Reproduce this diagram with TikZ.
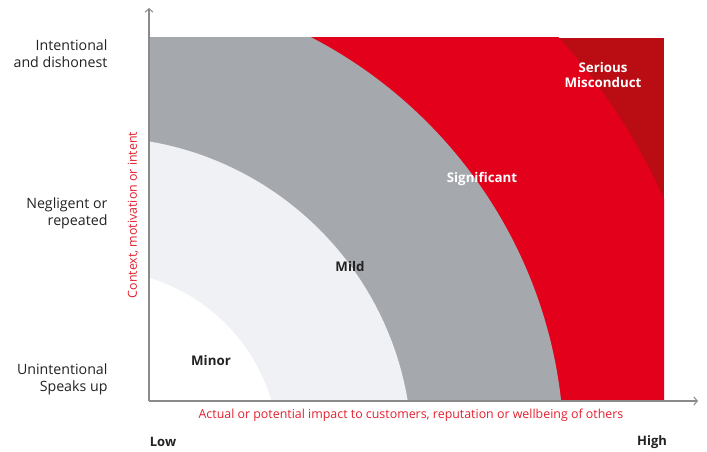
\documentclass[tikz,border=0pt]{standalone}
\usepackage{fontspec}
\setmainfont{Open Sans}
\usetikzlibrary{arrows.meta}
\definecolor{hred}{HTML}{E2001A}
\definecolor{hdark}{HTML}{BA0D13}
\definecolor{hgray}{HTML}{A5A9AE}
\definecolor{hlight}{HTML}{EFF1F4}
\definecolor{haxis}{HTML}{8A8A8A}
\definecolor{htext}{HTML}{222222}
\definecolor{hlab}{HTML}{E4202F}
\tikzset{
  axisline/.style={draw=haxis, line width=1.2pt, -{Straight Barb[length=3.5pt,width=8pt,line width=1pt]}},
  levellab/.style={text=htext, anchor=east, align=right, font=\fontsize{14.2}{17}\selectfont},
  zonelab/.style={font=\fontsize{13.3}{15}\selectfont\bfseries, align=center},
  axislab/.style={text=hlab, font=\fontsize{12.4}{14}\selectfont},
  endlab/.style={text=htext, font=\fontsize{13}{15}\selectfont\bfseries},
}
\begin{document}
\begin{tikzpicture}[x=1pt,y=-1pt]
\useasboundingbox (0,0) rectangle (707,452);
\coordinate (c) at (96,453);
\begin{scope}
  \clip (149,38) rectangle (664,401);
  \fill[hdark] (149,38) rectangle (664,401);
  \fill[hred] (c) circle (622);
  \fill[hgray] (c) circle (468);
  \fill[hlight] (c) circle (316);
  \fill[white] (c) circle (183);
\end{scope}
\coordinate (o) at (149,401);
\coordinate (ytip) at (149,8);
\coordinate (xtip) at (698,401);
\draw[axisline] (o) -- (ytip);
\draw[axisline] (o) -- (xtip);
% level labels
\node[levellab] (l1) at (111,53.5) {Intentional\\and dishonest};
\node[levellab] (l2) at (111,213.5) {Negligent or\\repeated};
\node[levellab] (l3) at (111,379.5) {Unintentional\\Speaks up};
% zone labels
\node[zonelab, text=htext] (minor) at (211,361) {Minor};
\node[zonelab, text=htext] (mild) at (350,267) {Mild};
\node[zonelab, text=white] (sig) at (482,179) {Significant};
\node[zonelab, text=white] (ser) at (603,75.5) {Serious\\Misconduct};
% axis labels
\node[axislab, rotate=90] (ylab) at (133,215) {Context, motivation or intent};
\node[axislab] (xlab) at (411,415) {Actual or potential impact to customers, reputation or wellbeing of others};
\node[endlab] (low) at (163,442) {Low};
\node[endlab] (high) at (652,442) {High};
\end{tikzpicture}
\end{document}
